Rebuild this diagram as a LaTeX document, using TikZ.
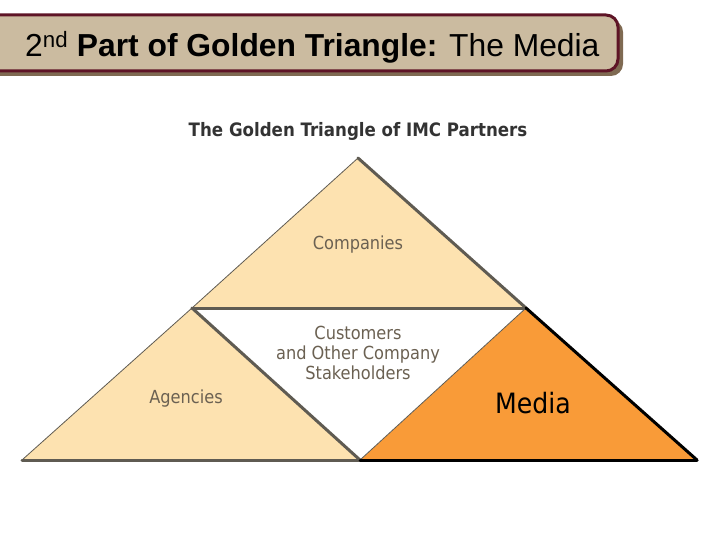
\documentclass[tikz,border=0pt]{standalone}
\usepackage{fontspec}
\setmainfont{Liberation Sans}
\newfontfamily\diagfont{DejaVu Sans Condensed}
\usetikzlibrary{calc}
\definecolor{barfill}{HTML}{CBBBA0}
\definecolor{barline}{HTML}{5E1426}
\definecolor{barshadow}{HTML}{7F6A52}
\definecolor{peach}{HTML}{FDE2B0}
\definecolor{orangeM}{HTML}{F99B38}
\definecolor{edge}{HTML}{5F5B52}
\definecolor{labelc}{HTML}{6B6152}
\tikzset{
  tri/.style={draw=edge, line width=0.8pt, line join=miter},
  thick edge/.style={draw=edge, line width=3pt, line cap=round},
  dark edge/.style={draw=black, line width=3pt, line cap=round},
  lbl/.style={font=\diagfont\fontsize{18}{20}\selectfont, text=labelc, align=center, inner sep=0pt},
}
\begin{document}
\begin{tikzpicture}[x=1pt,y=-1pt]
\useasboundingbox (0,0) rectangle (720,540);
% title bar
\fill[barshadow, rounded corners=12pt] (-20,20) rectangle (623,76);
\draw[barline, fill=barfill, line width=3pt, rounded corners=12pt] (-20,15) rectangle (618,71);
\node[anchor=base west, inner sep=0pt, font=\fontsize{31.8}{34}\selectfont] (title) at (25,57)
  {2\textsuperscript{nd} \textbf{Part of Golden Triangle:} The Media};
% diagram heading
\node[font=\diagfont\bfseries\fontsize{18.5}{20}\selectfont, text=black!80, inner sep=0pt] (head) at (358,131) {The Golden Triangle of IMC Partners};
% corner coordinates
\coordinate (A) at (358,158);
\coordinate (B) at (192,308);
\coordinate (C) at (526,308);
\coordinate (D) at (22,460);
\coordinate (E) at (360,460);
\coordinate (F) at (697,460);
% fills
\fill[peach] (A) -- (B) -- (C) -- cycle;
\fill[peach] (B) -- (D) -- (E) -- cycle;
\fill[orangeM] (C) -- (E) -- (F) -- cycle;
\fill[white] (B) -- (C) -- (E) -- cycle;
% thin edges
\draw[tri] (A) -- (B);
\draw[tri] (B) -- (D);
\draw[tri] (E) -- (C);
% thick edges
\draw[thick edge] (A) -- (C);
\draw[thick edge] (B) -- (C);
\draw[thick edge] (B) -- (E);
\draw[thick edge] (D) -- (E);
\draw[dark edge] (C) -- (F);
\draw[dark edge] (E) -- (F);
% labels
\node[lbl] (comp) at (358,245) {Companies};
\node[lbl, font=\diagfont\fontsize{18}{20}\selectfont] (cust) at (358,353) {Customers\\and Other Company\\Stakeholders};
\node[lbl] (ag) at (186,399) {Agencies};
\node[lbl, text=black, font=\diagfont\fontsize{28}{30}\selectfont] (media) at (533,403) {Media};
\end{tikzpicture}
\end{document}
